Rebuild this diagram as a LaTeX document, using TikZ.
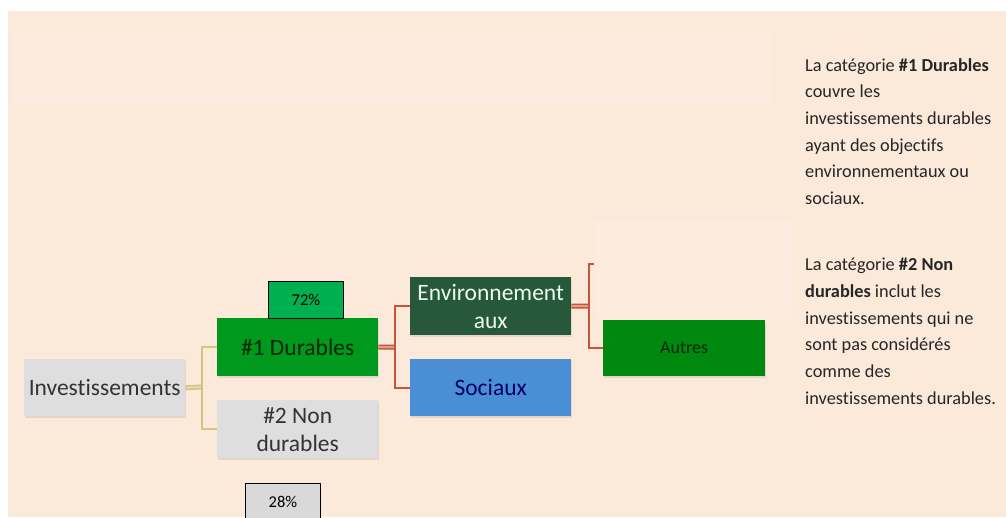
\documentclass[tikz,border=0pt]{standalone}
\usepackage{fontspec}
\setmainfont{Carlito}[Ligatures=NoCommon]
\usetikzlibrary{shadows}
\definecolor{peach}{HTML}{FBE9DA}
\definecolor{peachlight}{HTML}{FCEBDE}
\definecolor{boxgray}{HTML}{DEDEDE}
\definecolor{durgreen}{HTML}{00991E}
\definecolor{pctgreen}{HTML}{00B050}
\definecolor{envgreen}{HTML}{27583A}
\definecolor{socblue}{HTML}{4A8FD6}
\definecolor{autgreen}{HTML}{00880F}
\definecolor{linkred}{HTML}{C5553A}
\definecolor{linktan}{HTML}{D6C283}
\definecolor{pctgray}{HTML}{D9D9D9}
\tikzset{
  bigbox/.style={anchor=north west, minimum width=161pt, minimum height=58pt, inner sep=0pt,
    align=center, font=\fontsize{23.5}{28}\selectfont,
    drop shadow={shadow xshift=1pt, shadow yshift=-2pt, opacity=0.18}},
  pctbox/.style={anchor=north west, draw=black, line width=0.8pt, minimum width=75pt,
    minimum height=37pt, inner sep=0pt, font=\fontsize{16.5}{19}\selectfont},
  tanlink/.style={draw=linktan, line width=1.6pt},
  redlink/.style={draw=linkred, line width=2.4pt},
  trunk/.style={double distance=2pt, line width=1.5pt},
  sidetext/.style={anchor=north west, inner sep=0pt, align=left, text=black!85,
    font=\fontsize{18.3}{26.7}\selectfont}
}
\begin{document}
\begin{tikzpicture}[x=1pt,y=-1pt]
\useasboundingbox (0,0) rectangle (1006,517);
\fill[white] (0,0) rectangle (1006,517);
\fill[peach] (8,11) rectangle (1006,517);
\fill[peachlight] (12,32) rectangle (770,105);
% blank (empty) child box
\node[anchor=north west, fill=peachlight, minimum width=199pt, minimum height=100pt, inner sep=0pt] (blank) at (594,219) {};
% nodes
\node[bigbox, fill=boxgray, text=black!80, minimum height=57pt] (inv) at (24,359) {Investissements};
\node[bigbox, fill=durgreen, text=black!85!green] (dur) at (217,318) {\#1 Durables};
\node[bigbox, fill=boxgray, text=black!80] (non) at (217,400) {\#2 Non\\durables};
\node[pctbox, fill=pctgreen] (p72) at (268,281) {72\%};
\node[pctbox, fill=pctgray] (p28) at (245,483) {28\%};
\node[bigbox, fill=envgreen, text=white!92!green] (env) at (410,277) {Environnement\\aux};
\node[bigbox, fill=socblue, text=black!60!blue, minimum height=57pt] (soc) at (410,359) {Sociaux};
\node[bigbox, fill=autgreen, text=black!85!green, minimum width=162pt, minimum height=56pt,
  font=\fontsize{18}{21}\selectfont] (aut) at (603,320) {Autres};
% junctions
\coordinate (j1) at (202,387);
\coordinate (j2) at (395,347);
\coordinate (j3) at (589,306);
\coordinate (bl) at (594,264);
% connectors
\draw[tanlink, trunk, double=linktan!45!peach] (inv.east) -- (j1);
\draw[tanlink] (dur.west) -| (j1) |- (non.west);
\draw[redlink, trunk, double=linkred!50!peach] (dur.east) -- (j2);
\draw[redlink] (env.west) -| (j2) |- (soc.west);
\draw[redlink, trunk, double=linkred!50!peach] (env.east) -- (j3);
\draw[redlink] (bl) -| (j3) |- (aut.west);
% side text
\node[sidetext] (t1) at (805,58) {La catégorie \textbf{\#1 Durables}\\couvre les\\investissements durables\\ayant des objectifs\\environnementaux ou\\sociaux.};
\node[sidetext] (t2) at (805,258) {La catégorie \textbf{\#2 Non}\\\textbf{durables} inclut les\\investissements qui ne\\sont pas considérés\\comme des\\investissements durables.};
\end{tikzpicture}
\end{document}
